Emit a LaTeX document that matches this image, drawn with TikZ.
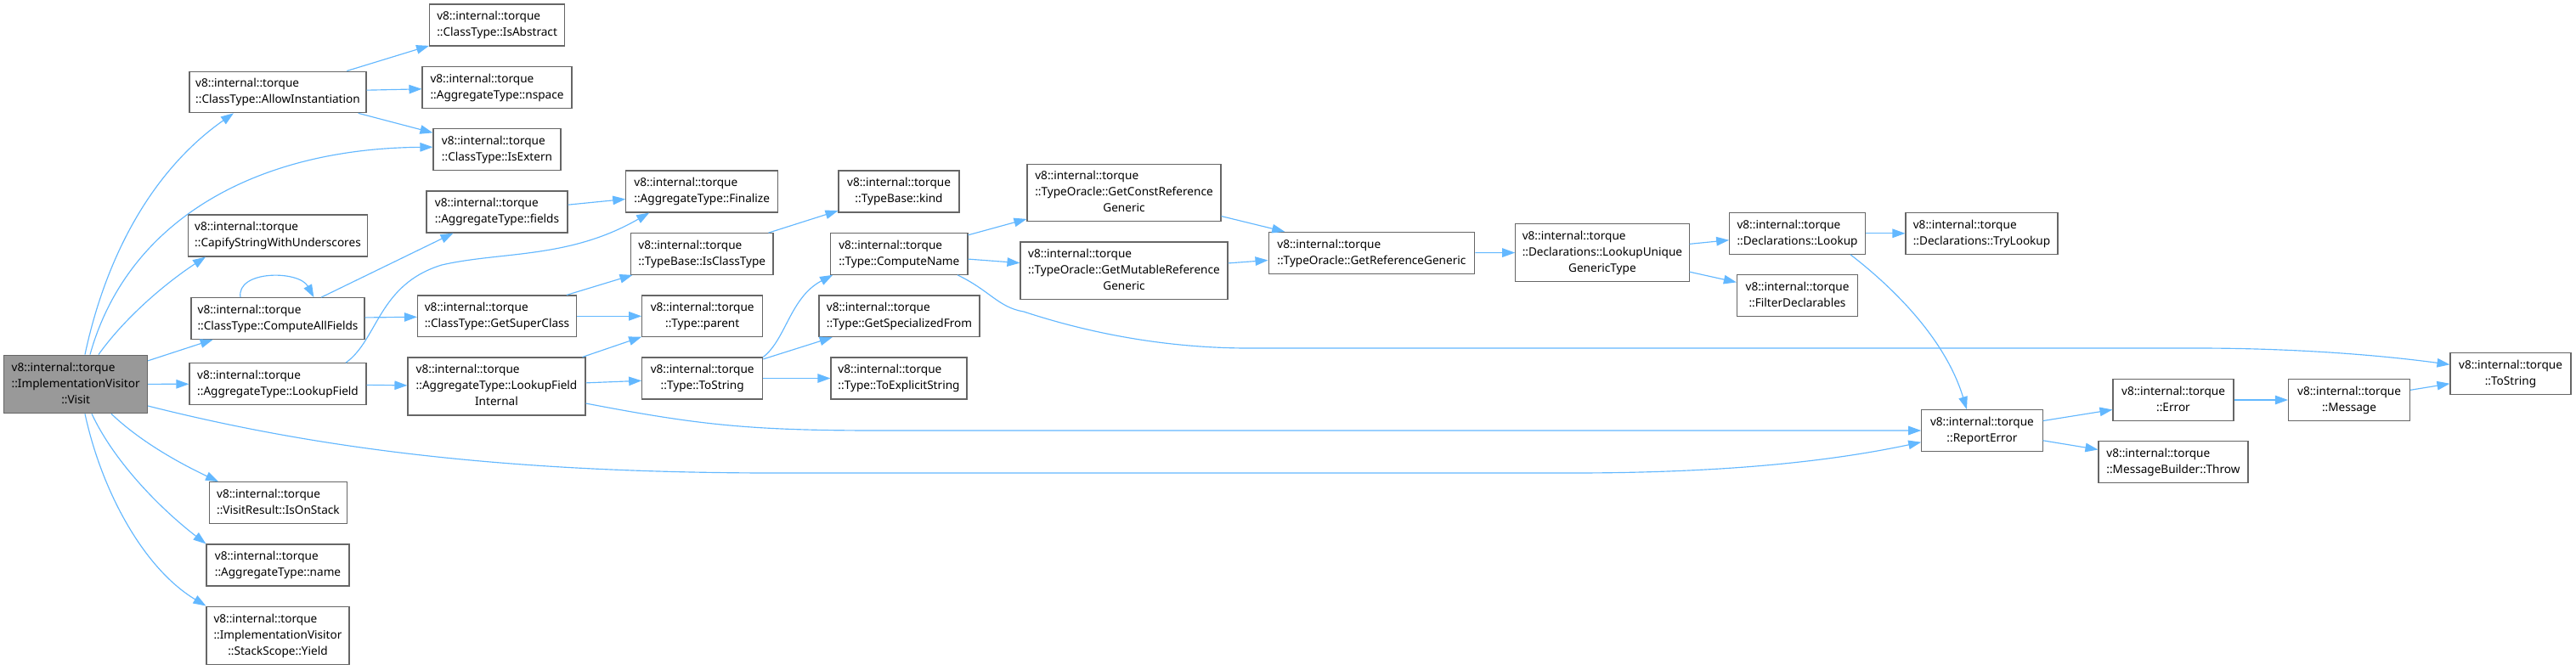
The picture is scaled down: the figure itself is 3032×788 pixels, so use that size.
\documentclass[tikz,border=0pt]{standalone}
\usepackage{fontspec}
\setmainfont{Noto Sans}
\usetikzlibrary{arrows.meta}
\definecolor{edgecol}{HTML}{63B8FF}
\definecolor{bordercol}{HTML}{666666}
\definecolor{visitfill}{HTML}{999999}
\newcommand{\nfont}{\fontsize{13.6}{19}\selectfont}
\newcommand{\twol}[2]{\begin{tabular}{@{}l@{}}#1\\\multicolumn{1}{@{}c@{}}{#2}\end{tabular}}
\newcommand{\threel}[3]{\begin{tabular}{@{}l@{}}#1\\#2\\\multicolumn{1}{@{}c@{}}{#3}\end{tabular}}
\newcommand{\vit}{v8::internal::torque}
\tikzset{
  box/.style={draw=bordercol, line width=1.1pt, fill=white, inner sep=0pt, font=\nfont, text=black},
  edge/.style={draw=edgecol, line width=1.15pt, -{Triangle[length=15pt,width=10.5pt]}}
}
\begin{document}
\begin{tikzpicture}[x=1pt,y=-1pt]
\useasboundingbox (0,0) rectangle (3032,788);
\fill[white] (0,0) rectangle (3032,788);

\node[box, fill=visitfill, minimum width=168.7pt, minimum height=68.7pt] (visit) at (89.2,452.4) {\threel{\vit}{::ImplementationVisitor}{::Visit}};
\node[box, minimum width=208pt, minimum height=48.7pt] (allow) at (327,108.4) {\twol{\vit}{::ClassType::AllowInstantiation}};
\node[box, minimum width=159pt, minimum height=49pt] (isabs) at (585.1,29.5) {\twol{\vit}{::ClassType::IsAbstract}};
\node[box, minimum width=176pt, minimum height=48.3pt] (nspace) at (585,102.9) {\twol{\vit}{::AggregateType::nspace}};
\node[box, minimum width=150pt, minimum height=49pt] (isext) at (585,176.2) {\twol{\vit}{::ClassType::IsExtern}};
\node[box, minimum width=211pt, minimum height=49pt] (capify) at (327,277.5) {\twol{\vit}{::CapifyStringWithUnderscores}};
\node[box, minimum width=204pt, minimum height=48.6pt] (caf) at (327,375) {\twol{\vit}{::ClassType::ComputeAllFields}};
\node[box, minimum width=208pt, minimum height=49pt] (lookupf) at (327,452.2) {\twol{\vit}{::AggregateType::LookupField}};
\node[box, minimum width=161.3pt, minimum height=48.6pt] (onstack) at (327.4,592) {\twol{\vit}{::VisitResult::IsOnStack}};
\node[box, minimum width=168pt, minimum height=49pt] (name) at (327,665.5) {\twol{\vit}{::AggregateType::name}};
\node[box, minimum width=168pt, minimum height=68.7pt] (yield) at (327,748.4) {\threel{\vit}{::ImplementationVisitor}{::StackScope::Yield}};
\node[box, minimum width=166pt, minimum height=49pt] (fields) at (585,249.5) {\twol{\vit}{::AggregateType::fields}};
\node[box, minimum width=187pt, minimum height=48.7pt] (supercls) at (585,372.3) {\twol{\vit}{::ClassType::GetSuperClass}};
\node[box, minimum width=209pt, minimum height=68pt] (lfi) at (584.5,455) {\threel{\vit}{::AggregateType::LookupField}{Internal}};
\node[box, minimum width=178.8pt, minimum height=49pt] (finalize) at (826.2,225.5) {\twol{\vit}{::AggregateType::Finalize}};
\node[box, minimum width=167.4pt, minimum height=48.6pt] (isclass) at (826.3,299) {\twol{\vit}{::TypeBase::IsClassType}};
\node[box, minimum width=142pt, minimum height=48.7pt] (parent) at (826.7,372.3) {\twol{\vit}{::Type::parent}};
\node[box, minimum width=142pt, minimum height=49pt] (tostr) at (826.7,445.5) {\twol{\vit}{::Type::ToString}};
\node[box, minimum width=142pt, minimum height=49pt] (kind) at (1058,225.5) {\twol{\vit}{::TypeBase::kind}};
\node[box, minimum width=161.3pt, minimum height=48.6pt] (compname) at (1058.3,299) {\twol{\vit}{::Type::ComputeName}};
\node[box, minimum width=189pt, minimum height=48.7pt] (specfrom) at (1058.5,372.3) {\twol{\vit}{::Type::GetSpecializedFrom}};
\node[box, minimum width=160pt, minimum height=49pt] (explicit) at (1058,445.5) {\twol{\vit}{::Type::ToExplicitString}};
\node[box, minimum width=228pt, minimum height=67.3pt] (constref) at (1323,226.7) {\threel{\vit}{::TypeOracle::GetConstReference}{Generic}};
\node[box, minimum width=244pt, minimum height=67.7pt] (mutref) at (1323,318.8) {\threel{\vit}{::TypeOracle::GetMutableReference}{Generic}};
\node[box, minimum width=242.7pt, minimum height=48.7pt] (getref) at (1614.4,297.7) {\twol{\vit}{::TypeOracle::GetReferenceGeneric}};
\node[box, minimum width=204.3pt, minimum height=67.6pt] (lookupuniq) at (1885.9,297.5) {\threel{\vit}{::Declarations::LookupUnique}{GenericType}};
\node[box, minimum width=159.6pt, minimum height=49pt] (declookup) at (2115.5,274.8) {\twol{\vit}{::Declarations::Lookup}};
\node[box, minimum width=179pt, minimum height=49pt] (trylookup) at (2332.5,274.8) {\twol{\vit}{::Declarations::TryLookup}};
\node[box, minimum width=142.2pt, minimum height=49pt] (filterdecl) at (2115.5,348.2) {\twol{\vit}{::FilterDeclarables}};
\node[box, minimum width=142pt, minimum height=49pt] (tostring) at (2955,440.2) {\twol{\vit}{::ToString}};
\node[box, minimum width=142pt, minimum height=48.6pt] (error) at (2558,471) {\twol{\vit}{::Error}};
\node[box, minimum width=143pt, minimum height=48.6pt] (message) at (2765,471) {\twol{\vit}{::Message}};
\node[box, minimum width=142.3pt, minimum height=48.6pt] (reporterr) at (2332.9,507) {\twol{\vit}{::ReportError}};
\node[box, minimum width=176pt, minimum height=48.6pt] (throw) at (2558,544) {\twol{\vit}{::MessageBuilder::Throw}};

% edges from Visit
\draw[edge] ([xshift=10.8pt]visit.north) .. controls (125,300) and (180,200) .. ([xshift=-52pt]allow.south);
\draw[edge] ([xshift=16.8pt]visit.north) .. controls (150,260) and (300,175) .. ([yshift=3pt]isext.west);
\draw[edge] ([xshift=26.8pt]visit.north) .. controls (150,370) and (200,330) .. ([xshift=-85pt]capify.south);
\draw[edge] (visit) -- (caf);
\draw[edge] (visit) -- (lookupf);
\draw[edge] ([yshift=-25.6pt]visit.east) .. controls (380,530) and (600,556) .. (900,557) -- (1850,557) .. controls (2050,557) and (2170,540) .. ([yshift=-13.7pt]reporterr.west);
\draw[edge] ([xshift=41.8pt]visit.south) .. controls (160,515) and (200,540) .. ([xshift=-70.4pt]onstack.north);
\draw[edge] ([xshift=18.8pt]visit.south) .. controls (135,545) and (190,600) .. (name.north west);
\draw[edge] ([xshift=10.8pt]visit.south) .. controls (120,580) and (170,670) .. (yield.north west);

\draw[edge] (allow) -- (isabs);
\draw[edge] (allow) -- (nspace);
\draw[edge] (allow) -- (isext);
\draw[edge] ([xshift=-44pt]caf.north) .. controls (278,318) and (352,318) .. ([xshift=42.4pt]caf.north);
\draw[edge] (caf) -- (fields);
\draw[edge] (caf) -- (supercls);
\draw[edge] ([xshift=80pt]lookupf.north) .. controls (445,400) and (445,335) .. (520,312) .. controls (590,296) and (670,305) .. ([xshift=-62pt]finalize.south);
\draw[edge] (lookupf) -- (lfi);
\draw[edge] (fields) -- (finalize);
\draw[edge] (supercls) -- (isclass);
\draw[edge] (supercls) -- (parent);
\draw[edge] (lfi) -- (parent);
\draw[edge] (lfi) -- (tostr);
\draw[edge] ([yshift=-20pt]lfi.east) .. controls (820,500) and (880,507) .. (1034,507) -- (reporterr.west);
\draw[edge] (isclass) -- (kind);
\draw[edge] (tostr.north east) .. controls (925,400) and (930,350) .. ([xshift=3pt]compname.south west);
\draw[edge] (tostr) -- (specfrom);
\draw[edge] (tostr) -- (explicit);
\draw[edge] ([xshift=-12.5pt]compname.south east) .. controls (1165,342) and (1175,362) .. (1205,367) .. controls (1290,395) and (1380,410) .. (1470,410) -- (2586,410) .. controls (2700,410) and (2800,418) .. ([yshift=10.9pt]tostring.west);
\draw[edge] (compname) -- (constref);
\draw[edge] (compname) -- (mutref);
\draw[edge] (constref) -- (getref);
\draw[edge] (mutref) -- (getref);
\draw[edge] (getref) -- (lookupuniq);
\draw[edge] (lookupuniq) -- (declookup);
\draw[edge] (lookupuniq) -- (filterdecl);
\draw[edge] (declookup) -- (trylookup);
\draw[edge] ([xshift=62.5pt]declookup.south) .. controls (2230,340) and (2290,400) .. ([xshift=-18pt]reporterr.north);
\draw[edge] (reporterr) -- (error);
\draw[edge] (reporterr) -- (throw);
\draw[edge] (error) -- (message);
\draw[edge] (message) -- (tostring);
\end{tikzpicture}
\end{document}
